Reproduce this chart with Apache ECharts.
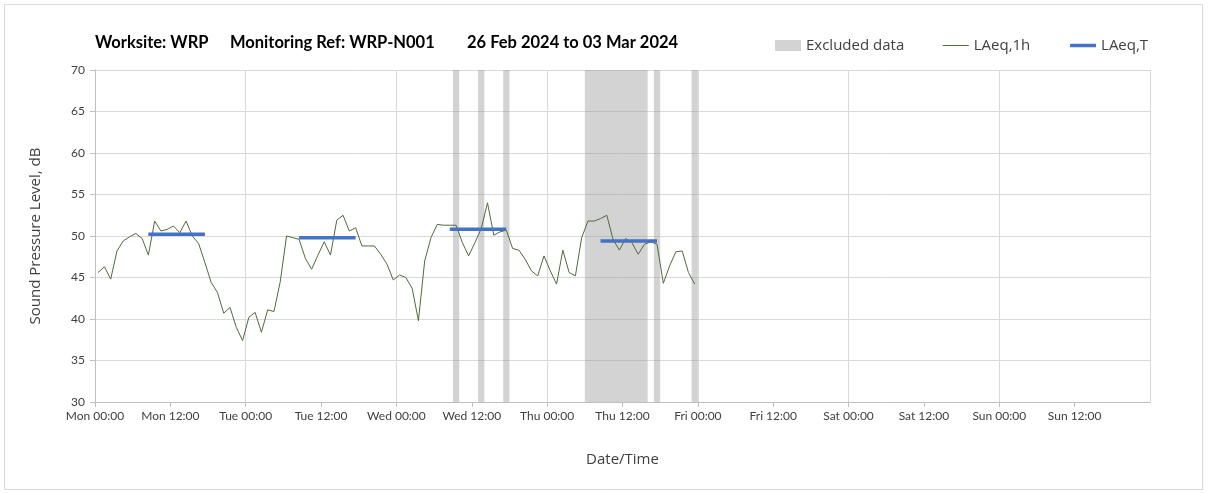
<!DOCTYPE html>
<html>
<head>
<meta charset="utf-8">
<script src="https://cdn.jsdelivr.net/npm/echarts@6/dist/echarts.min.js"></script>
<style>
  html, body { margin: 0; padding: 0; background: #fff; }
  #chart { width: 1208px; height: 493px; }
</style>
</head>
<body>
<div id="chart"></div>
<script>
// hourly LAeq,1h values, Mon 00:00 .. Thu 23:00 (plotted mid-hour)
const laeq1h = [
  45.6, 46.3, 44.8, 48.2, 49.4, 49.9, 50.3, 49.7, 47.7, 51.8, 50.6, 50.8,
  51.2, 50.4, 51.8, 50.0, 49.1, 46.8, 44.4, 43.2, 40.7, 41.4, 39.0, 37.4,
  40.2, 40.8, 38.4, 41.1, 40.9, 44.5, 50.0, 49.8, 49.6, 47.3, 46.0, 47.7,
  49.3, 47.7, 51.9, 52.5, 50.6, 51.0, 48.8, 48.8, 48.8, 47.8, 46.6, 44.7,
  45.3, 45.0, 43.7, 39.8, 47.0, 49.8, 51.4, 51.3, 51.3, 51.3, 49.2, 47.6,
  49.2, 50.9, 54.0, 50.1, 50.5, 50.7, 48.5, 48.3, 47.2, 45.8, 45.2, 47.6,
  45.8, 44.2, 48.3, 45.6, 45.2, 49.8, 51.8, 51.8, 52.1, 52.5, 49.6, 48.3,
  49.7, 49.2, 47.8, 49.0, 49.3, 49.0, 44.3, 46.4, 48.1, 48.2, 45.6, 44.2
];

// LAeq,T daytime periods (hours from Mon 00:00)
const periodStart = [8.5, 32.5, 56.5, 80.5];
const periodEnd = [17.5, 41.5, 65.5, 89.5];
const laeqT = [50.2, 49.8, 50.8, 49.4];

// excluded data windows (hours from Mon 00:00)
const excludedStart = [57, 61, 65, 78, 89, 95];
const excludedEnd = [58, 62, 66, 88, 90, 96];

const tickLabels = [
  'Mon 00:00', 'Mon 12:00', 'Tue 00:00', 'Tue 12:00', 'Wed 00:00', 'Wed 12:00',
  'Thu 00:00', 'Thu 12:00', 'Fri 00:00', 'Fri 12:00', 'Sat 00:00', 'Sat 12:00',
  'Sun 00:00', 'Sun 12:00'
];

const axisFont = 'Lato, "Open Sans", sans-serif';
const uiFont = '"Open Sans", "Noto Sans", sans-serif';
const greenColor = '#4f6b3a';
const blueColor = '#4472c4';

const hourlyData = laeq1h.map((v, i) => [i + 0.5, v]);

const periodData = [];
periodStart.forEach((s, i) => {
  periodData.push([s, laeqT[i]], [periodEnd[i], laeqT[i]], [periodEnd[i], '-']);
});

const excludedAreas = excludedStart.map((s, i) => [{ xAxis: s }, { xAxis: excludedEnd[i] }]);

const chart = echarts.init(document.getElementById('chart'));

const option = {
  animation: false,
  title: [
    { text: 'Worksite: WRP', left: 90, top: 29 },
    { text: 'Monitoring Ref: WRP-N001', left: 225, top: 29 },
    { text: '26 Feb 2024 to 03 Mar 2024', left: 462, top: 29 }
  ].map(t => ({
    ...t,
    textStyle: { fontFamily: axisFont, fontSize: 16.5, fontWeight: 'bold', color: '#000' }
  })),
  graphic: [
    {
      type: 'rect',
      shape: { x: 4.5, y: 4.5, width: 1198, height: 485 },
      style: { fill: 'none', stroke: '#d9d9d9', lineWidth: 1 },
      silent: true
    }
  ],
  legend: {
    left: 770,
    top: 33,
    itemWidth: 26,
    itemHeight: 11,
    itemGap: 38,
    textStyle: { fontFamily: uiFont, fontSize: 15, color: '#404040' },
    data: [
      { name: 'Excluded data', icon: 'rect' },
      { name: 'LAeq,1h', itemStyle: { opacity: 0 }, lineStyle: { width: 1, color: greenColor } },
      { name: 'LAeq,T', itemStyle: { opacity: 0 }, lineStyle: { width: 3.5, color: blueColor } }
    ]
  },
  grid: { left: 95, right: 58, top: 70, bottom: 91 },
  xAxis: [
    {
      type: 'value',
      min: 0,
      max: 168,
      interval: 12,
      name: 'Date/Time',
      nameLocation: 'middle',
      nameGap: 50,
      nameTextStyle: { fontFamily: uiFont, fontSize: 15, color: '#404040' },
      axisLine: { show: true, lineStyle: { color: '#bfbfbf' } },
      axisTick: { show: true, length: 5, lineStyle: { color: '#bfbfbf' } },
      axisLabel: {
        fontFamily: axisFont,
        fontSize: 12,
        color: '#404040',
        margin: 8,
        showMaxLabel: false,
        formatter: v => tickLabels[Math.round(v / 12)] || ''
      },
      splitLine: { show: false }
    },
    {
      type: 'value',
      min: 0,
      max: 168,
      interval: 24,
      position: 'bottom',
      axisLine: { show: false },
      axisTick: { show: false },
      axisLabel: { show: false },
      splitLine: { show: true, lineStyle: { color: '#d9d9d9' } }
    }
  ],
  yAxis: {
    type: 'value',
    min: 30,
    max: 70,
    interval: 5,
    name: 'Sound Pressure Level, dB',
    nameLocation: 'middle',
    nameGap: 52,
    nameTextStyle: { fontFamily: uiFont, fontSize: 15, color: '#404040' },
    axisLine: { show: true, lineStyle: { color: '#bfbfbf' } },
    axisTick: { show: true, length: 5, lineStyle: { color: '#bfbfbf' } },
    axisLabel: { fontFamily: axisFont, fontSize: 12, color: '#404040', margin: 10 },
    splitLine: { show: true, lineStyle: { color: '#d9d9d9' } }
  },
  series: [
    {
      name: 'Excluded data',
      type: 'bar',
      data: [],
      itemStyle: { color: '#d3d3d3' }
    },
    {
      name: 'LAeq,1h',
      type: 'line',
      data: hourlyData,
      symbol: 'none',
      color: greenColor,
      lineStyle: { color: greenColor, width: 1 },
      z: 3,
      markArea: {
        silent: true,
        itemStyle: { color: 'rgba(150,150,150,0.42)' },
        data: excludedAreas
      }
    },
    {
      name: 'LAeq,T',
      type: 'line',
      data: periodData,
      symbol: 'none',
      color: blueColor,
      lineStyle: { color: blueColor, width: 3.5 },
      z: 4
    }
  ]
};

chart.setOption(option);
</script>
</body>
</html>
